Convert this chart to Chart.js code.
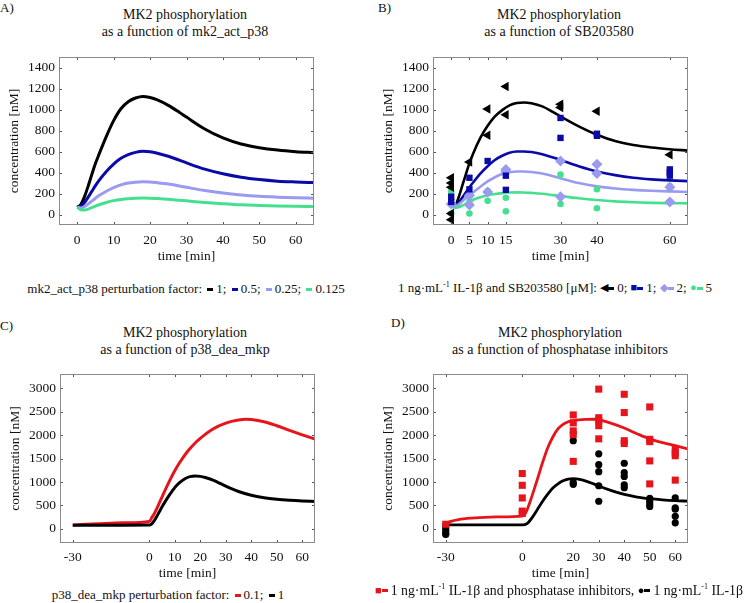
<!DOCTYPE html>
<html><head><meta charset="utf-8">
<script src="https://cdn.jsdelivr.net/npm/chart.js@4"></script>
<style>
body{margin:0;width:745px;height:603px;background:#fff;position:relative;overflow:hidden;font-family:'Liberation Serif','Times New Roman',serif;color:#111}
canvas{position:absolute}
.title{position:absolute;text-align:center;font-size:14px;line-height:17px;width:330px}
.lab{position:absolute;font-size:13px;line-height:14px}
.leg{position:absolute;font-size:13px;line-height:18px;white-space:nowrap}
.c{text-align:center}
.d{display:inline-block;width:6px;height:3px;vertical-align:middle;margin:0 3px 2px 2px}
.m{font-size:11px;vertical-align:1px}
sup{font-size:8px;line-height:0}
</style></head>
<body>
<div class="lab" style="left:0;top:1px">A)</div>
<div class="lab" style="left:378px;top:1px">B)</div>
<div class="lab" style="left:0;top:319px">C)</div>
<div class="lab" style="left:391px;top:316px">D)</div>

<div class="title" style="left:20px;top:6px">MK2 phosphorylation<br>as a function of mk2_act_p38</div>
<div class="title" style="left:394px;top:6px">MK2 phosphorylation<br>as a function of SB203580</div>
<div class="title" style="left:20px;top:324px">MK2 phosphorylation<br>as a function of p38_dea_mkp</div>
<div class="title" style="left:395px;top:324px">MK2 phosphorylation<br>as a function of phosphatase inhibitors</div>

<canvas id="cA" width="330" height="225" style="left:0;top:45px"></canvas>
<canvas id="cB" width="330" height="225" style="left:374px;top:45px"></canvas>
<canvas id="cC" width="330" height="220" style="left:1px;top:362px"></canvas>
<canvas id="cD" width="330" height="220" style="left:374px;top:362px"></canvas>

<div class="leg c" style="left:0;width:372px;top:280px">mk2_act_p38 perturbation factor: <span class="d" style="background:#000"></span>1; <span class="d" style="background:#0a0aa8"></span>0.5; <span class="d" style="background:#9a9af0"></span>0.25; <span class="d" style="background:#45e08f"></span>0.125</div>
<div class="leg c" style="left:372px;width:366px;top:278px">1 ng·mL<sup>-1</sup> IL-1β and SB203580 [μM]: <span class="m" style="color:#000">◀</span><span class="d" style="background:#000;margin-left:0"></span>0; <span class="m" style="color:#0a0aa8">■</span><span class="d" style="background:#0a0aa8;margin-left:0"></span>1; <span class="m" style="color:#9a9af0">◆</span><span class="d" style="background:#9a9af0;margin-left:0"></span>2; <span class="m" style="color:#45e08f">●</span><span class="d" style="background:#45e08f;margin-left:0"></span>5</div>
<div class="leg c" style="left:0;width:336px;top:586px">p38_dea_mkp perturbation factor: <span class="d" style="background:#e6141b"></span>0.1; <span class="d" style="background:#000"></span>1</div>
<div class="leg" style="left:375px;top:581px;font-size:13.8px"><span class="m" style="color:#e6141b">■</span><span class="d" style="background:#e6141b;margin-left:0"></span>1 ng·mL<sup>-1</sup> IL-1β and phosphatase inhibitors, <span class="m" style="color:#000">●</span><span class="d" style="background:#000;margin-left:0"></span>1 ng·mL<sup>-1</sup> IL-1β</div>

<script>
// ---------- tick labels ----------
const ticksA_x = [0, 10, 20, 30, 40, 50, 60];
const ticksB_x = [0, 5, 10, 15, 30, 40, 60];
const ticksC_x = [-30, 0, 10, 20, 30, 40, 50, 60];
const ticksD_x = [-30, 0, 20, 30, 40, 50, 60];
const ticksAB_y = [0, 200, 400, 600, 800, 1000, 1200, 1400];
const ticksCD_y = [0, 500, 1000, 1500, 2000, 2500, 3000];

// ---------- panel A: simulated curves ----------
const timeA = [0,1,2,3,4,5,6,8,10,12,14,16,18,20,22,25,28,30,35,40,45,50,55,60,65];
const A_f1     = [70,95,170,270,380,485,575,745,895,1008,1075,1110,1125,1115,1092,1040,975,928,815,730,672,637,614,599,589];
const A_f05    = [70,80,115,165,220,275,325,410,480,535,570,592,602,598,584,555,518,492,432,388,355,333,318,310,304];
const A_f025   = [70,62,75,100,128,155,180,222,257,283,300,308,312,310,303,290,272,259,228,204,186,173,165,159,155];
const A_f0125  = [70,45,42,52,66,80,93,115,132,144,151,155,157,156,152,145,136,130,115,103,93,87,82,78,76];

// ---------- panel B: simulated curves ----------
const timeB = [0,1,2,3,4,5,6,8,10,12,14,16,18,20,22,25,28,30,35,40,45,50,55,60,65];
const B_sb0 = [100,80,160,270,380,490,580,730,845,935,995,1040,1062,1068,1060,1030,975,935,840,760,700,662,638,622,610];
const B_sb1 = [140,80,110,160,210,260,305,390,460,520,560,588,600,601,595,575,543,520,460,410,375,350,335,325,318];
const B_sb2 = [110,80,95,125,155,180,210,265,315,355,385,402,410,410,405,390,365,345,300,268,248,235,226,220,215];
const B_sb5 = [85,62,70,85,103,122,140,165,183,196,204,209,211,210,206,198,185,176,155,138,125,117,111,108,106];

// ---------- panel B: measured data (per time point) ----------
const obsTimeB = [0, 5, 10, 15, 30, 40, 60];
const obsB_sb0 = [[350,300,260,10,-50],[500],[1005,755],[1220,950],[1050,1020],[985],[570]];
const obsB_sb1 = [[170,120],[350,240],[510],[370,235],[920,730],[770,750],[430,400,370]];
const obsB_sb2 = [[100],[180,90],[215],[430,410],[510,170],[480,390],[260,120]];
const obsB_sb5 = [[220,10],[120,10],[220,130],[160,30],[380,100],[240,60],[270,120]];

// ---------- panel C: simulated curves ----------
const timeC_red = [-30,-20,-10,0,1,2,3,4,5,6,8,10,12,15,18,20,25,30,35,38,40,45,50,55,60,65];
const C_f01     = [85,110,130,160,240,330,440,560,680,800,1030,1240,1420,1650,1830,1930,2130,2255,2320,2335,2330,2285,2200,2100,2005,1915];
const timeC_blk = [-30,-20,-10,0,1,2,3,4,5,6,8,10,12,14,16,18,20,22,25,28,30,32,35,40,45,50,55,60,65];
const C_f1      = [80,80,80,82,110,180,270,370,470,560,730,880,990,1070,1115,1130,1120,1095,1040,965,912,862,798,718,666,633,611,596,586];

// ---------- panel D: simulated curves ----------
const timeD_red = [-30,-28,-25,-20,-10,0,1,2,3,4,5,6,8,10,12,14,16,18,20,25,28,30,35,40,45,50,55,60,65];
const D_inh     = [110,160,200,230,255,275,310,420,570,730,900,1070,1420,1730,1960,2130,2230,2285,2310,2335,2338,2325,2250,2150,2030,1920,1840,1775,1705];
const timeD_blk = [-30,-20,-10,0,2,4,6,8,10,12,14,16,18,20,22,25,28,30,35,40,45,50,55,60,65];
const D_il1     = [85,85,85,85,120,250,420,590,740,870,960,1025,1060,1070,1060,1020,960,915,815,735,680,645,620,603,592];

// ---------- panel D: measured data ----------
const obsTimeD = [-30, 0, 20, 30, 40, 50, 60];
const obsD_inh = [[100],[1180,930,660,380,330],[2430,2260,2090,2010,1440],[2980,2370,2310,2200,1920],[2870,2480,1880,1820],[2600,1910,1860,1450,960],[1700,1620,1560,1040]];
const obsD_il1 = [[80,20,-40,-90,-120],[],[1880,990,950],[1600,1370,1220,920,590],[1400,1200,1120,940,880],[650,590,530,480],[660,450,420,270,130]];

// ---------- colours ----------
const BLACK = '#000000', BLUE = '#0a0aa8', LILAC = '#9a9af0', GREEN = '#45e08f', RED = '#e6141b';

const FONT = "'Liberation Serif', 'Times New Roman', serif";
Chart.defaults.font.family = FONT;
Chart.defaults.font.size = 13;
Chart.defaults.color = '#111';
Chart.defaults.animation = false;

const pts = (t, v) => t.map((x, i) => ({x, y: v[i]}));
const obsPts = (t, groups) => groups.flatMap((g, i) => g.map(v => ({x: t[i], y: v})));

function curve(t, v, color, w) {
  return {data: pts(t, v), borderColor: color, backgroundColor: color, borderWidth: w || 3,
    pointRadius: 0, cubicInterpolationMode: 'monotone', order: 2};
}
function marks(t, g, color, style, r, rot) {
  return {data: obsPts(t, g), showLine: false, borderColor: color, backgroundColor: color,
    pointStyle: style, pointRadius: r, pointRotation: rot || 0, pointBorderWidth: 0, order: 1, clip: false};
}

const frameTicks = {
  id: 'frameTicks',
  afterDatasetsDraw(chart) {
    const {ctx, chartArea: a, scales: {x, y}} = chart;
    ctx.save();
    ctx.strokeStyle = '#555'; ctx.lineWidth = 1;
    ctx.beginPath();
    x.ticks.forEach(tk => {
      const p = Math.round(x.getPixelForValue(tk.value)) + 0.5;
      ctx.moveTo(p, a.top); ctx.lineTo(p, a.top + 3);
      ctx.moveTo(p, a.bottom); ctx.lineTo(p, a.bottom - 3);
    });
    y.ticks.forEach(tk => {
      const p = Math.round(y.getPixelForValue(tk.value)) + 0.5;
      ctx.moveTo(a.left, p); ctx.lineTo(a.left + 3, p);
      ctx.moveTo(a.right, p); ctx.lineTo(a.right - 3, p);
    });
    ctx.stroke();
    ctx.strokeStyle = '#8a8a8a';
    ctx.strokeRect(Math.round(a.left) + 0.5, Math.round(a.top) + 0.5,
      Math.round(a.right - a.left) - 1, Math.round(a.bottom - a.top) - 1);
    ctx.restore();
  }
};

function makeChart(id, datasets, xr, yr, xt, yt, L) {
  new Chart(document.getElementById(id), {
    type: 'line',
    data: {datasets},
    options: {
      responsive: false, devicePixelRatio: 1,
      layout: {padding: {top: L.top, right: L.right, left: 0, bottom: 0}},
      plugins: {legend: {display: false}, tooltip: {enabled: false}},
      scales: {
        x: {type: 'linear', min: xr[0], max: xr[1],
          afterBuildTicks: s => { s.ticks = xt.map(v => ({value: v})); },
          afterFit: s => { s.height = L.xh; },
          grid: {display: false, drawTicks: false}, border: {display: false},
          ticks: {padding: L.xpad, maxRotation: 0, autoSkip: false, color: '#111', font: {size: 13.5}, callback: v => String(v)},
          title: {display: true, text: 'time [min]', color: '#111', font: {size: 13.5}, padding: {top: 0, bottom: L.xtpad}}},
        y: {type: 'linear', min: yr[0], max: yr[1],
          afterBuildTicks: s => { s.ticks = yt.map(v => ({value: v})); },
          afterFit: s => { s.width = 59; },
          grid: {display: false, drawTicks: false}, border: {display: false},
          ticks: {padding: 4, color: '#111', font: {size: 13.5}, callback: v => String(v)},
          title: {display: true, text: 'concentration [nM]', color: '#111', font: {size: 13.5}, padding: {top: 6, bottom: 0}}}
      }
    },
    plugins: [frameTicks]
  });
}

const LAB = {top: 11, right: 16, xh: 45, xpad: 7, xtpad: 5};
const LCD = {top: 12, right: 16, xh: 39, xpad: 6, xtpad: 0};

makeChart('cA', [
  curve(timeA, A_f0125, GREEN), curve(timeA, A_f025, LILAC),
  curve(timeA, A_f05, BLUE), curve(timeA, A_f1, BLACK)
], [-5, 65], [-100, 1500], ticksA_x, ticksAB_y, LAB);

makeChart('cB', [
  marks(obsTimeB, obsB_sb0, BLACK, 'triangle', 5.5, -90),
  marks(obsTimeB, obsB_sb1, BLUE, 'rect', 4.5),
  marks(obsTimeB, obsB_sb2, LILAC, 'rectRot', 5.5),
  marks(obsTimeB, obsB_sb5, GREEN, 'circle', 3.3),
  curve(timeB, B_sb5, GREEN, 2.6), curve(timeB, B_sb2, LILAC, 2.6),
  curve(timeB, B_sb1, BLUE, 2.6), curve(timeB, B_sb0, BLACK, 2.6)
], [-5, 65], [-100, 1500], ticksB_x, ticksAB_y, LAB);

makeChart('cC', [
  curve(timeC_blk, C_f1, BLACK), curve(timeC_red, C_f01, RED)
], [-35, 65], [-300, 3300], ticksC_x, ticksCD_y, LCD);

makeChart('cD', [
  marks(obsTimeD, obsD_inh, RED, 'rect', 5),
  marks(obsTimeD, obsD_il1, BLACK, 'circle', 3.6),
  curve(timeD_blk, D_il1, BLACK, 2.8), curve(timeD_red, D_inh, RED, 2.8)
], [-35, 65], [-300, 3300], ticksD_x, ticksCD_y, LCD);
</script>
</body></html>
